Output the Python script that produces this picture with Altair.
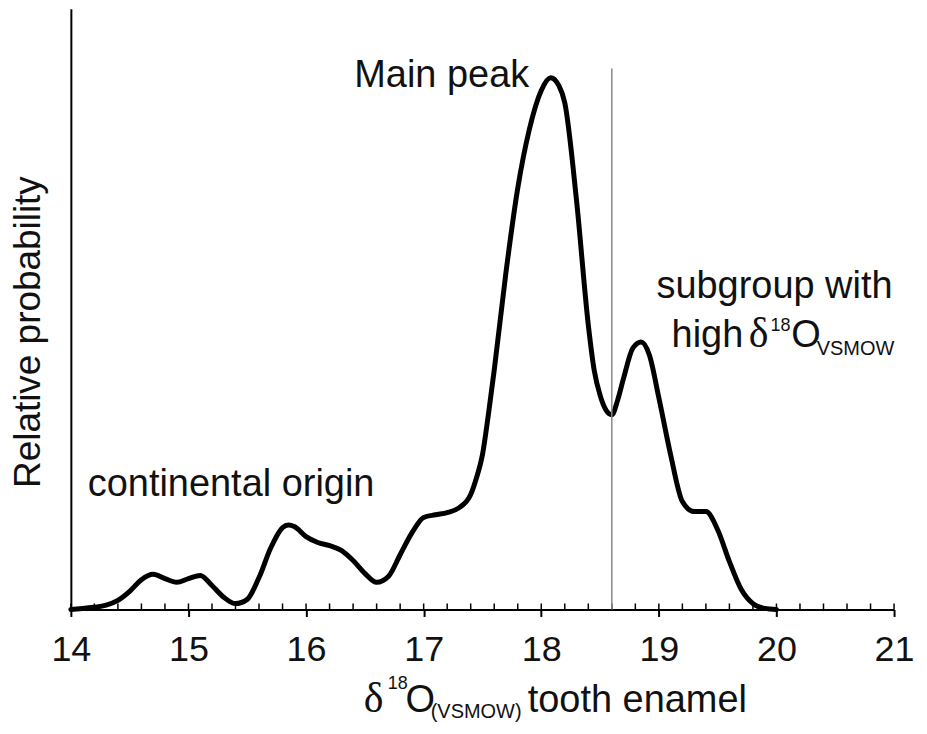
import altair as alt
import pandas as pd

# δ18O (VSMOW) of tooth enamel and the relative probability
x_vals = [14.0, 14.1, 14.2, 14.3, 14.4, 14.5, 14.6, 14.7, 14.8, 14.9,
          15.0, 15.1, 15.2, 15.3, 15.4, 15.5, 15.6, 15.7, 15.8, 15.85, 15.9,
          16.0, 16.1, 16.2, 16.3, 16.4, 16.5, 16.6, 16.7, 16.8, 16.9,
          17.0, 17.1, 17.2, 17.3, 17.4, 17.45, 17.5, 17.55, 17.6, 17.7, 17.8, 17.9,
          18.0, 18.08, 18.15, 18.2, 18.3, 18.4, 18.45, 18.5, 18.55, 18.6, 18.65,
          18.7, 18.78, 18.85, 18.92, 19.0, 19.1, 19.2, 19.3, 19.4, 19.5, 19.6,
          19.7, 19.8, 19.9, 20.0]
density = [0.000, 0.002, 0.004, 0.008, 0.017, 0.034, 0.056, 0.066, 0.058, 0.051,
           0.058, 0.064, 0.045, 0.023, 0.011, 0.019, 0.060, 0.116, 0.154, 0.159, 0.156,
           0.137, 0.126, 0.120, 0.111, 0.092, 0.068, 0.051, 0.062, 0.103, 0.144,
           0.173, 0.178, 0.182, 0.191, 0.216, 0.248, 0.291, 0.366, 0.450, 0.634, 0.792, 0.904,
           0.976, 1.000, 0.985, 0.953, 0.769, 0.535, 0.450, 0.403, 0.375, 0.366, 0.394,
           0.435, 0.492, 0.503, 0.478, 0.398, 0.291, 0.203, 0.184, 0.184, 0.150, 0.090,
           0.038, 0.011, 0.002, 0.000]

major_ticks = [14, 15, 16, 17, 18, 19, 20, 21]
minor_ticks = [14.0, 14.2, 14.4, 14.6, 14.8, 15.0, 15.2, 15.4, 15.6, 15.8,
               16.0, 16.2, 16.4, 16.6, 16.8, 17.0, 17.2, 17.4, 17.6, 17.8,
               18.0, 18.2, 18.4, 18.6, 18.8, 19.0, 19.2, 19.4, 19.6, 19.8,
               20.0, 20.2, 20.4, 20.6, 20.8, 21.0]

divider_x = [18.6]
divider_top = [1.017]

# annotations (text, x in δ18O units, y in relative probability units)
ann_text = ["Main peak", "continental origin", "subgroup with", "high"]
ann_x = [16.41, 14.144, 18.98, 19.108]
ann_y = [0.983, 0.214, 0.585, 0.493]

sub_delta_x = [19.765]
sub_delta_y = [0.493]
sub_sup_x = [19.95]
sub_sup_y = [0.523]
sub_O_x = [20.125]
sub_O_y = [0.493]
sub_sub_x = [20.342]
sub_sub_y = [0.478]

# x-axis title pieces
xt_delta_x = [16.49]
xt_sup_x = [16.695]
xt_O_x = [16.845]
xt_sub_x = [17.06]
xt_rest_x = [17.885]

FONT = "Liberation Sans"
SERIF = "Liberation Serif"
INK = "#111111"
ANN = 38

xscale = alt.Scale(domain=[14, 21], nice=False, zero=False)
yscale = alt.Scale(domain=[0, 1.1295], nice=False, zero=True)

df = pd.DataFrame({"x": x_vals, "d": density})

curve = alt.Chart(df).mark_line(
    color="black", strokeWidth=5, interpolate="monotone",
    strokeCap="round", strokeJoin="round"
).encode(
    x=alt.X("x:Q", scale=xscale, axis=alt.Axis(
        values=major_ticks, format="d", tickSize=7, tickWidth=2, tickColor="black",
        domainColor="black", domainWidth=2, labelFontSize=36, labelFont=FONT,
        labelColor=INK, labelPadding=16, labelFlush=False, grid=False, title=None,
        orient="bottom")),
    y=alt.Y("d:Q", scale=yscale, axis=alt.Axis(
        ticks=False, labels=False, title=None, domainColor="black",
        domainWidth=2, grid=False, orient="left")),
)

minor = alt.Chart(pd.DataFrame({"x": minor_ticks})).mark_rule(
    color="black", strokeWidth=1.5
).encode(
    x=alt.X("x:Q", scale=xscale, axis=None),
    y=alt.value(596),
    y2=alt.value(602),
)

divider = alt.Chart(pd.DataFrame({"x": divider_x, "y0": [0], "y1": divider_top})).mark_rule(
    color="#888888", strokeWidth=1.5
).encode(
    x=alt.X("x:Q", scale=xscale, axis=None),
    y=alt.Y("y0:Q", scale=yscale, axis=None),
    y2="y1:Q",
)


def text_layer(xs, ys, texts, size, font=FONT, ypix=None, align="left"):
    data = pd.DataFrame({"x": xs, "t": texts})
    enc = dict(x=alt.X("x:Q", scale=xscale, axis=None), text="t:N")
    if ypix is None:
        data["y"] = ys
        enc["y"] = alt.Y("y:Q", scale=yscale, axis=None)
    else:
        enc["y"] = alt.value(ypix)
    return alt.Chart(data).mark_text(
        font=font, fontSize=size, color=INK, align=align, baseline="alphabetic"
    ).encode(**enc)


annotations = text_layer(ann_x, ann_y, ann_text, ANN)
sub_delta = text_layer(sub_delta_x, sub_delta_y, ["δ"], 42, font=SERIF)
sub_sup = text_layer(sub_sup_x, sub_sup_y, ["18"], 18)
sub_O = text_layer(sub_O_x, sub_O_y, ["O"], ANN)
sub_sub = text_layer(sub_sub_x, sub_sub_y, ["VSMOW"], 20)

xt_delta = text_layer(xt_delta_x, None, ["δ"], 42, font=SERIF, ypix=705)
xt_sup = text_layer(xt_sup_x, None, ["18"], 18, ypix=682)
xt_O = text_layer(xt_O_x, None, ["O"], ANN, ypix=705)
xt_sub = text_layer(xt_sub_x, None, ["(VSMOW)"], 20, ypix=711)
xt_rest = text_layer(xt_rest_x, None, ["tooth enamel"], ANN, ypix=705)

ytitle = alt.Chart(pd.DataFrame({"t": ["Relative probability"]})).mark_text(
    font=FONT, fontSize=37, color=INK, align="center", baseline="alphabetic", angle=270
).encode(x=alt.value(-31), y=alt.value(324), text="t:N")

chart = alt.layer(
    curve, minor, divider, annotations, sub_delta, sub_sup, sub_O, sub_sub,
    xt_delta, xt_sup, xt_O, xt_sub, xt_rest, ytitle
).resolve_axis(x="independent", y="independent").properties(
    width=825, height=602,
    padding={"left": 63, "top": 0, "right": 25, "bottom": 116},
    autosize=alt.AutoSizeParams(type="none"),
    background="white",
).configure_view(stroke=None)

chart.save("out.html", embed_options={"renderer": "svg", "actions": False})
